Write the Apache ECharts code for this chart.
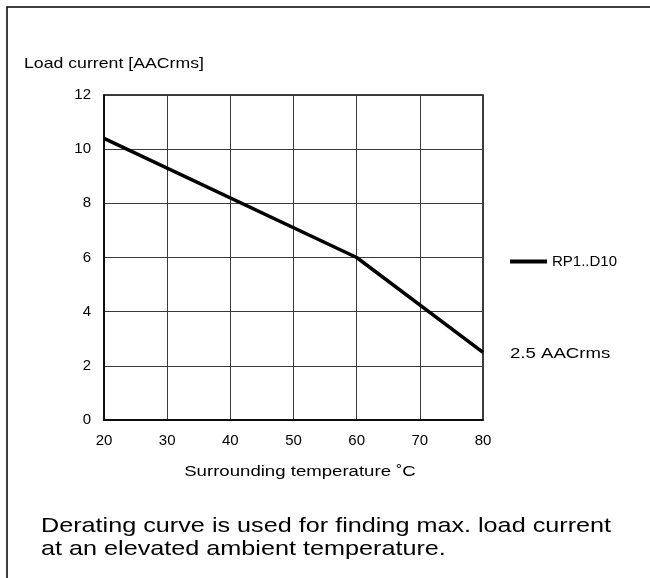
<!DOCTYPE html>
<html>
<head>
<meta charset="utf-8">
<script src="https://cdn.jsdelivr.net/npm/echarts@6/dist/echarts.min.js"></script>
<style>
html,body{margin:0;padding:0;background:#fff;}
#c{width:650px;height:578px;}
</style>
</head>
<body>
<div id="c"></div>
<script>
var temperatures = [20, 30, 40, 50, 60, 70, 80];
var curveTemps = [20, 60, 80];
var curveCurrent = [10.4, 6.0, 2.5];
var seriesName = 'RP1..D10';
var endNote = '2.5 AACrms';
var yAxisTitle = 'Load current [AACrms]';
var xAxisTitle = 'Surrounding temperature \u02DAC';
var captionLines = ['Derating curve is used for finding max. load current', 'at an elevated ambient temperature.'];

var font = '"Liberation Sans", Arial, sans-serif';
var chart = echarts.init(document.getElementById('c'));
chart.setOption({
  animation: false,
  grid: {left: 104, top: 95, width: 379, height: 325, show: true, borderColor: '#000', borderWidth: 1.5, backgroundColor: 'transparent'},
  xAxis: {
    type: 'value', min: 20, max: 80, interval: 10,
    axisLine: {show: true, lineStyle: {color: '#000', width: 1.5}},
    axisTick: {show: false},
    splitLine: {show: true, lineStyle: {color: '#3a3a3a', width: 1}},
    axisLabel: {color: '#000', fontFamily: font, fontSize: 15, margin: 13}
  },
  yAxis: {
    type: 'value', min: 0, max: 12, interval: 2,
    axisLine: {show: true, lineStyle: {color: '#000', width: 1.5}},
    axisTick: {show: false},
    splitLine: {show: true, lineStyle: {color: '#3a3a3a', width: 1}},
    axisLabel: {color: '#000', fontFamily: font, fontSize: 15, margin: 13}
  },
  legend: {
    left: 505, top: 249, icon: 'rect', itemWidth: 37, itemHeight: 4, itemGap: 9,
    data: [seriesName],
    textStyle: {color: '#000', fontFamily: font, fontSize: 15}
  },
  graphic: [
    {type: 'polyline', shape: {points: [[7, 578], [7, 7], [650, 7]]}, style: {stroke: '#000', lineWidth: 1.5, fill: null}},
    {type: 'text', x: 24, y: 64, scaleX: 1.22, style: {text: yAxisTitle, font: '14.5px ' + font, fill: '#000', verticalAlign: 'middle'}},
    {type: 'text', x: 300, y: 472, scaleX: 1.2, style: {text: xAxisTitle, font: '15.5px ' + font, fill: '#000', align: 'center', verticalAlign: 'middle'}},
    {type: 'text', x: 510, y: 354, scaleX: 1.2, style: {text: endNote, font: '15.5px ' + font, fill: '#000', verticalAlign: 'middle'}},
    {type: 'text', x: 41, y: 526, scaleX: 1.2, style: {text: captionLines[0], font: '21px ' + font, fill: '#000', verticalAlign: 'middle'}},
    {type: 'text', x: 41, y: 549, scaleX: 1.2, style: {text: captionLines[1], font: '21px ' + font, fill: '#000', verticalAlign: 'middle'}}
  ],
  series: [{
    name: seriesName, type: 'line', showSymbol: false, symbol: 'none',
    lineStyle: {color: '#000', width: 3.5},
    itemStyle: {color: '#000'},
    data: curveTemps.map(function (t, i) { return [t, curveCurrent[i]]; })
  }]
});
</script>
</body>
</html>
